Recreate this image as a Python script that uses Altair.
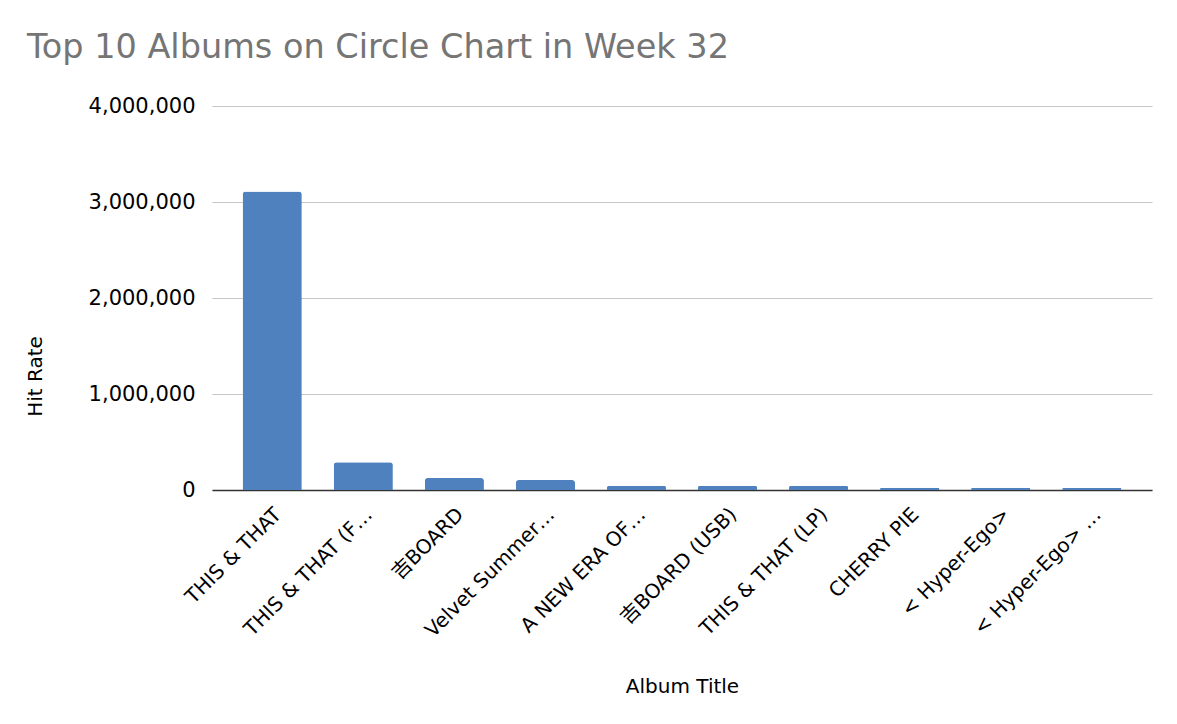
import pandas as pd
import altair as alt

# Album titles as shown on the chart (already truncated there)
albums = [
    "THIS & THAT",
    "THIS & THAT (F…",
    "吉BOARD",
    "Velvet Summer…",
    "A NEW ERA OF…",
    "吉BOARD (USB)",
    "THIS & THAT (LP)",
    "CHERRY PIE",
    "< Hyper-Ego>",
    "< Hyper-Ego> …",
]
hit_rate = [3110000, 290000, 125000, 104000, 45000, 44000, 43000, 24000, 23000, 22000]

df = pd.DataFrame({"album": albums, "hits": hit_rate})

font = "DejaVu Sans, Noto Sans CJK KR, sans-serif"

chart = alt.Chart(df).mark_bar(
    color="#4e81bd", cornerRadiusTopLeft=3, cornerRadiusTopRight=3
).encode(
    x=alt.X("album:N", sort=albums, title="Album Title",
            scale=alt.Scale(paddingInner=0.35, paddingOuter=0.336),
            axis=alt.Axis(labelAngle=-45, labelAlign="right", labelBaseline="middle",
                          labelPadding=21, labelOffset=6, labelFontSize=20,
                          labelColor="#000000", labelFont=font, labelLimit=300,
                          ticks=False, domainColor="#333333", domainWidth=1.5,
                          titleFont=font, titleFontSize=20, titleFontWeight="normal",
                          titleColor="#000000", titleY=196, titleBaseline="middle")),
    y=alt.Y("hits:Q", title="Hit Rate",
            scale=alt.Scale(domain=[0, 4000000]),
            axis=alt.Axis(values=[0, 1000000, 2000000, 3000000, 4000000], format=",d",
                          labelFontSize=21, labelColor="#000000", labelFont=font,
                          labelPadding=17, ticks=False, domain=False,
                          gridColor="#c6c6c6", gridWidth=1,
                          titleFont=font, titleFontSize=20, titleFontWeight="normal",
                          titleColor="#000000", titleX=-177, titleY=270,
                          titleAlign="center", titleBaseline="middle")),
).properties(
    width=940,
    height=384,
    autosize=alt.AutoSizeParams(type="none"),
    padding={"left": 204, "top": 98, "right": 17, "bottom": 218},
    title=alt.TitleParams("Top 10 Albums on Circle Chart in Week 32", anchor="start",
                          frame="group", dx=-185, offset=30, font=font, fontSize=33.5,
                          fontWeight="normal", color="#757575"),
).configure_view(stroke=None)

chart.save("out.html", embed_options={"renderer": "svg", "actions": False})
